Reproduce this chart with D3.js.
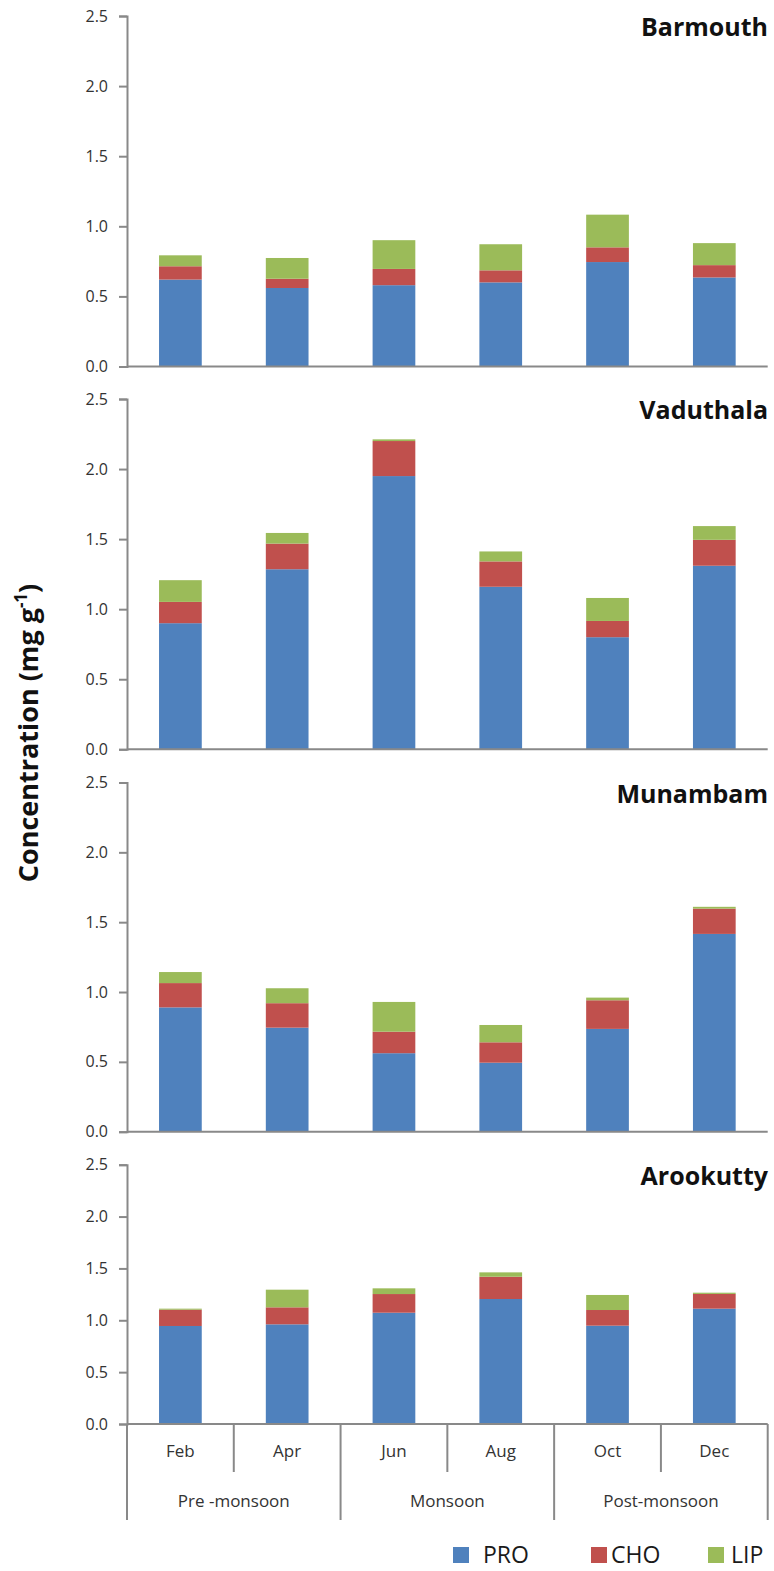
<!DOCTYPE html>
<html>
<head>
<meta charset="utf-8">
<script src="https://cdn.jsdelivr.net/npm/d3@7"></script>
<style>
  html, body { margin: 0; padding: 0; background: #ffffff; }
  svg { display: block; font-family: "Open Sans", "DejaVu Sans", sans-serif; }
</style>
</head>
<body>
<svg id="chart" width="774" height="1571"></svg>
<script>
// Sampling months and seasons
const months = ["Feb", "Apr", "Jun", "Aug", "Oct", "Dec"];
const seasons = ["Pre -monsoon", "Monsoon", "Post-monsoon"];
const seasonSpan = [2, 2, 2];
const sites = ["Barmouth", "Vaduthala", "Munambam", "Arookutty"];
const seriesNames = ["PRO", "CHO", "LIP"];
const yTicks = [0, 0.5, 1.0, 1.5, 2.0, 2.5];

// Biochemical composition (mg g-1): protein, carbohydrate, lipid
const barmouthPRO = [0.62, 0.56, 0.58, 0.60, 0.745, 0.635];
const barmouthCHO = [0.095, 0.066, 0.116, 0.086, 0.105, 0.088];
const barmouthLIP = [0.078, 0.148, 0.205, 0.186, 0.233, 0.157];

const vaduthalaPRO = [0.90, 1.285, 1.95, 1.16, 0.80, 1.31];
const vaduthalaCHO = [0.152, 0.183, 0.25, 0.181, 0.116, 0.185];
const vaduthalaLIP = [0.155, 0.076, 0.012, 0.071, 0.164, 0.098];

const munambamPRO = [0.89, 0.745, 0.562, 0.494, 0.736, 1.416];
const munambamCHO = [0.174, 0.175, 0.154, 0.146, 0.205, 0.181];
const munambamLIP = [0.079, 0.107, 0.213, 0.124, 0.019, 0.013];

const arookuttyPRO = [0.945, 0.961, 1.073, 1.205, 0.948, 1.112];
const arookuttyCHO = [0.157, 0.164, 0.18, 0.215, 0.151, 0.142];
const arookuttyLIP = [0.01, 0.17, 0.055, 0.042, 0.145, 0.012];

const siteSeries = [
  [barmouthPRO, barmouthCHO, barmouthLIP],
  [vaduthalaPRO, vaduthalaCHO, vaduthalaLIP],
  [munambamPRO, munambamCHO, munambamLIP],
  [arookuttyPRO, arookuttyCHO, arookuttyLIP]
];

const colors = { PRO: "#4F81BD", CHO: "#C0504D", LIP: "#9BBB59" };
const axisColor = "#898989";
const textColor = "#333333";

// Panel geometry: pixel range of each panel's value axis (bottom = 0, top = 2.5)
const panels = [
  { bottom: 366.5, top: 16 },
  { bottom: 749.3, top: 399 },
  { bottom: 1131.7, top: 782.5 },
  { bottom: 1424, top: 1164.7 }
];
const xLeft = 127, xRight = 767.7;

const svg = d3.select("#chart");

const x = d3.scaleBand()
  .domain(months)
  .range([xLeft, xRight])
  .paddingInner(0.6)
  .paddingOuter(0.3);

const stack = d3.stack().keys(seriesNames);

panels.forEach((p, i) => {
  const [pro, cho, lip] = siteSeries[i];
  const rows = months.map((m, j) => ({ month: m, PRO: pro[j], CHO: cho[j], LIP: lip[j] }));
  const layers = stack(rows);

  const y = d3.scaleLinear().domain([0, 2.5]).range([p.bottom, p.top]);
  const g = svg.append("g").attr("class", "panel");

  // stacked bars
  g.selectAll("g.layer")
    .data(layers)
    .join("g")
    .attr("class", "layer")
    .attr("fill", d => colors[d.key])
    .selectAll("rect")
    .data(d => d)
    .join("rect")
    .attr("x", d => x(d.data.month))
    .attr("width", x.bandwidth())
    .attr("y", d => y(d[1]))
    .attr("height", d => y(d[0]) - y(d[1]));

  // category baseline
  g.append("line")
    .attr("x1", xLeft).attr("x2", xRight)
    .attr("y1", y(0)).attr("y2", y(0))
    .attr("stroke", axisColor).attr("stroke-width", 2);

  // value axis
  const yAxis = d3.axisLeft(y)
    .tickValues(yTicks)
    .tickFormat(d3.format(".1f"))
    .tickSizeOuter(0)
    .tickSize(8)
    .tickPadding(11);
  const ya = g.append("g")
    .attr("transform", `translate(${xLeft},0)`)
    .call(yAxis);
  ya.select(".domain").attr("stroke", axisColor).attr("stroke-width", 2);
  ya.selectAll(".tick line").attr("stroke", axisColor).attr("stroke-width", 2);
  ya.selectAll(".tick text")
    .attr("fill", textColor)
    .style("font-size", "16px")
    .style("font-family", "'Open Sans', sans-serif");

  // site name
  g.append("text")
    .attr("x", 768)
    .attr("y", p.top + 20)
    .attr("text-anchor", "end")
    .attr("fill", "#111")
    .style("font-size", "25px")
    .style("font-weight", "700")
    .text(sites[i]);
});

// two-level category axis under the last panel
const base = panels[panels.length - 1].bottom;
const monthTickEnd = base + 48;
const seasonTickEnd = base + 96;
const step = x.step();
const catG = svg.append("g").attr("class", "category-axis");

// dividers between months / seasons
const boundaries = d3.range(months.length + 1);
let cum = 0;
const seasonBounds = new Set([0]);
seasonSpan.forEach(s => { cum += s; seasonBounds.add(cum); });
boundaries.forEach(k => {
  const bx = xLeft + k * step;
  catG.append("line")
    .attr("x1", bx).attr("x2", bx)
    .attr("y1", base).attr("y2", seasonBounds.has(k) ? seasonTickEnd : monthTickEnd)
    .attr("stroke", axisColor).attr("stroke-width", 2);
});

catG.selectAll("text.month")
  .data(months)
  .join("text")
  .attr("class", "month")
  .attr("x", d => x(d) + x.bandwidth() / 2)
  .attr("y", base + 33)
  .attr("text-anchor", "middle")
  .attr("fill", textColor)
  .style("font-size", "17px")
  .text(d => d);

let start = 0;
seasons.forEach((s, k) => {
  const x0 = xLeft + start * step;
  const x1 = xLeft + (start + seasonSpan[k]) * step;
  catG.append("text")
    .attr("x", (x0 + x1) / 2)
    .attr("y", base + 83)
    .attr("text-anchor", "middle")
    .attr("fill", textColor)
    .style("font-size", "17px")
    .text(s);
  start += seasonSpan[k];
});

// value axis title
const title = svg.append("text")
  .attr("transform", "translate(38,733) rotate(-90)")
  .attr("text-anchor", "middle")
  .attr("fill", "#111")
  .style("font-size", "27px")
  .style("font-weight", "700");
title.append("tspan").text("Concentration (mg g");
title.append("tspan").attr("dy", -11).style("font-size", "17px").text("-1");
title.append("tspan").attr("dy", 11).text(")");

// legend
const legendPos = [
  { sx: 453, tx: 483 },
  { sx: 591, tx: 611 },
  { sx: 708, tx: 731 }
];
const legend = svg.append("g").attr("class", "legend");
seriesNames.forEach((name, k) => {
  legend.append("rect")
    .attr("x", legendPos[k].sx).attr("y", 1547)
    .attr("width", 16).attr("height", 16)
    .attr("fill", colors[name]);
  legend.append("text")
    .attr("x", legendPos[k].tx).attr("y", 1563)
    .attr("fill", "#1a1a1a")
    .style("font-size", "23px")
    .text(name);
});
</script>
</body>
</html>
